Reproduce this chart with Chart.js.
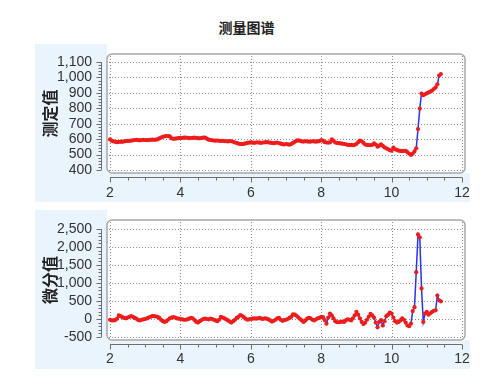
<!DOCTYPE html>
<html><head><meta charset="utf-8">
<script src="https://cdn.jsdelivr.net/npm/chart.js@4/dist/chart.umd.min.js"></script>
<style>
html,body{margin:0;padding:0;background:#fff;width:483px;height:390px;overflow:hidden;position:relative;}
.bg{position:absolute;background:#e9f4fc;}
#title{position:absolute;left:0;width:493px;top:17px;text-align:center;font:bold 14px "Noto Sans CJK SC";color:#222;line-height:20px;}
.cw{position:absolute;left:0;}
</style></head><body>
<div class="bg" style="left:35px;top:44px;width:72px;height:158px"></div>
<div class="bg" style="left:35px;top:173px;width:435px;height:29px"></div>
<div class="bg" style="left:35px;top:210px;width:72px;height:159px"></div>
<div class="bg" style="left:35px;top:340px;width:435px;height:29px"></div>
<div id="title">测量图谱</div>
<canvas id="c1" class="cw" width="483" height="165" style="top:40px"></canvas>
<canvas id="c2" class="cw" width="483" height="170" style="top:205px"></canvas>
<script>
const xValues = [
2.00,2.05,2.10,2.15,2.20,2.25,2.30,2.35,2.40,2.45,2.50,2.55,2.60,2.65,2.70,2.75,2.80,2.85,2.90,2.95,
3.00,3.05,3.10,3.15,3.20,3.25,3.30,3.35,3.40,3.45,3.50,3.55,3.60,3.65,3.70,3.75,3.80,3.85,3.90,3.95,
4.00,4.05,4.10,4.15,4.20,4.25,4.30,4.35,4.40,4.45,4.50,4.55,4.60,4.65,4.70,4.75,4.80,4.85,4.90,4.95,
5.00,5.05,5.10,5.15,5.20,5.25,5.30,5.35,5.40,5.45,5.50,5.55,5.60,5.65,5.70,5.75,5.80,5.85,5.90,5.95,
6.00,6.05,6.10,6.15,6.20,6.25,6.30,6.35,6.40,6.45,6.50,6.55,6.60,6.65,6.70,6.75,6.80,6.85,6.90,6.95,
7.00,7.05,7.10,7.15,7.20,7.25,7.30,7.35,7.40,7.45,7.50,7.55,7.60,7.65,7.70,7.75,7.80,7.85,7.90,7.95,
8.00,8.05,8.10,8.15,8.20,8.25,8.30,8.35,8.40,8.45,8.50,8.55,8.60,8.65,8.70,8.75,8.80,8.85,8.90,8.95,
9.00,9.05,9.10,9.15,9.20,9.25,9.30,9.35,9.40,9.45,9.50,9.55,9.60,9.65,9.70,9.75,9.80,9.85,9.90,9.95,
10.00,10.05,10.10,10.15,10.20,10.25,10.30,10.35,10.40,10.45,10.50,10.55,10.60,10.65,10.70,10.75,10.80,10.85,10.90,10.95,
11.00,11.05,11.10,11.15,11.20,11.25,11.30,11.35,11.40];

const measured = [
598,590,585,582,580,581,583,582,585,587,589,588,590,592,594,595,593,592,594,595,
594,593,594,595,596,595,596,598,604,610,615,618,620,619,617,605,602,603,605,606,
608,607,609,610,608,606,607,608,609,607,606,605,607,609,610,603,596,594,592,591,
590,591,589,588,589,587,586,585,587,586,582,578,575,570,568,567,569,572,575,577,
579,577,576,578,579,577,576,578,579,580,579,577,575,573,576,578,574,570,567,565,
568,566,564,568,575,582,590,592,588,585,584,586,585,583,584,586,585,583,585,587,
594,590,580,578,577,579,598,590,578,575,574,572,570,568,566,563,561,562,560,563,
568,580,590,586,575,565,562,561,560,563,572,565,551,558,566,556,546,540,534,528,
525,544,534,530,525,523,522,524,523,515,505,497,505,520,540,665,798,895,885,891,
897,903,908,915,925,935,955,1012,1022];

const differential = [
-20,-40,-40,-30,10,100,80,50,30,20,40,60,80,60,30,10,-30,-40,-20,-10,
0,20,40,60,80,80,70,60,30,-20,-60,-80,-60,-20,20,40,50,40,20,10,
0,-10,-20,-20,-10,10,30,20,-30,-80,-100,-60,-30,0,10,0,-10,10,0,-20,
-40,-60,-20,60,40,20,-10,-40,-70,-100,-60,-20,30,60,110,90,50,10,-20,-10,
0,10,20,10,20,30,10,0,20,10,-10,-40,-70,-50,-20,20,30,-20,-50,-30,
-20,0,30,60,130,120,90,40,0,-40,-80,-40,10,30,20,-20,-40,-10,20,30,
60,50,-30,-130,40,150,100,20,-60,-90,-90,-80,-70,-80,-40,-10,-20,-40,20,100,
200,120,20,-80,-140,-100,-20,60,140,100,40,-100,-230,-80,-30,-180,-60,80,120,180,
150,40,-60,-100,-80,-40,20,-20,-100,-180,-200,-130,220,330,1300,2350,2270,850,-80,150,
200,120,160,200,230,240,650,520,490];

const xTicks = [2,4,6,8,10,12];
const measuredTicks = [400,500,600,700,800,900,1000,1100];
const diffTicks = [-500,0,500,1000,1500,2000,2500];
const yTitle1 = '测定值';
const yTitle2 = '微分值';

const fmt = v => Number(v).toLocaleString('en-US');

const framePlugin = {
  id: 'frame',
  beforeDatasetsDraw(chart, args, opts) {
    const {ctx, chartArea: a, scales: {x, y}} = chart;
    ctx.save();
    ctx.beginPath();
    ctx.roundRect(a.left, a.top, a.right - a.left, a.bottom - a.top, 5);
    ctx.fillStyle = '#fff';
    ctx.fill();
    ctx.lineWidth = 1.5;
    ctx.strokeStyle = '#a8a8a8';
    ctx.stroke();
    ctx.setLineDash([1, 2]);
    ctx.strokeStyle = '#8c8c8c';
    ctx.lineWidth = 1;
    opts.yMajor.forEach(v => {
      const py = Math.round(y.getPixelForValue(v)) + 0.5;
      ctx.beginPath(); ctx.moveTo(a.left + 2, py); ctx.lineTo(a.right - 2, py); ctx.stroke();
    });
    opts.xMajor.forEach(v => {
      const px = Math.round(x.getPixelForValue(v)) + 0.5;
      ctx.beginPath(); ctx.moveTo(px, a.top + 2); ctx.lineTo(px, a.bottom - 2); ctx.stroke();
    });
    ctx.setLineDash([]);
    ctx.strokeStyle = '#6e6e6e';
    ctx.lineWidth = 1;
    const ax = a.left - 5.5;
    const yMin = opts.yMajor[0], yMax = opts.yMajor[opts.yMajor.length - 1];
    ctx.beginPath();
    ctx.moveTo(ax, y.getPixelForValue(yMax)); ctx.lineTo(ax, y.getPixelForValue(yMin));
    for (let v = yMin; v <= yMax + 1e-9; v += opts.yMinor) {
      const py = Math.round(y.getPixelForValue(v)) + 0.5;
      const major = opts.yMajor.includes(v);
      ctx.moveTo(ax, py); ctx.lineTo(ax - (major ? 5 : 3), py);
    }
    ctx.stroke();
    const ay = a.bottom + 4.5;
    const xMin = opts.xMajor[0], xMax = opts.xMajor[opts.xMajor.length - 1];
    ctx.beginPath();
    ctx.moveTo(x.getPixelForValue(xMin), ay); ctx.lineTo(x.getPixelForValue(xMax), ay);
    for (let k = 0; xMin + k * opts.xMinor <= xMax + 1e-9; k++) {
      const v = xMin + k * opts.xMinor;
      const px = Math.round(x.getPixelForValue(v)) + 0.5;
      const major = Math.abs(v - Math.round(v)) < 1e-9 && Math.round(v) % 2 === 0;
      ctx.moveTo(px, ay); ctx.lineTo(px, ay + (major ? 5 : 3));
    }
    ctx.stroke();
    ctx.restore();
  }
};

function makeChart(id, values, yTicks, yMin, yMax, yMinor, title, topPad, xHeight, labelPad) {
  return new Chart(document.getElementById(id), {
    type: 'line',
    data: {
      datasets: [{
        data: xValues.map((x, i) => ({x: x, y: values[i]})),
        borderColor: '#2b34e6',
        borderWidth: 1.5,
        pointRadius: 2.1,
        pointBackgroundColor: '#ee1c1c',
        pointBorderWidth: 0,
        tension: 0
      }]
    },
    options: {
      responsive: false,
      animation: false,
      devicePixelRatio: 1,
      layout: {autoPadding: false, padding: {top: topPad, right: 18, left: 0, bottom: 0}},
      plugins: {
        legend: {display: false},
        tooltip: {enabled: false},
        frame: {xMajor: xTicks, xMinor: 0.5, yMajor: yTicks, yMinor: yMinor}
      },
      scales: {
        x: {
          type: 'linear',
          min: 2 - 3 / 35.2, max: 12 + 3 / 35.2,
          afterBuildTicks: s => { s.ticks = xTicks.map(v => ({value: v})); },
          afterFit: s => { s.height = xHeight; s.paddingLeft = 0; s.paddingRight = 0; },
          grid: {display: false, drawTicks: false},
          border: {display: false},
          ticks: {autoSkip: false, padding: labelPad, color: '#333', font: {family: 'Liberation Sans', size: 14}, maxRotation: 0, callback: v => fmt(v)}
        },
        y: {
          min: yMin, max: yMax,
          afterBuildTicks: s => { s.ticks = yTicks.map(v => ({value: v})); },
          afterFit: s => { s.width = 107; s.paddingTop = 0; s.paddingBottom = 0; },
          grid: {display: false, drawTicks: false},
          border: {display: false},
          ticks: {autoSkip: false, padding: 15, color: '#333', font: {family: 'Liberation Sans', size: 14}, callback: v => fmt(v)},
          title: {display: true, text: title, color: '#222', padding: {top: 40, bottom: 0},
                  font: {family: 'Noto Sans CJK SC', size: 16, weight: 'bold'}}
        }
      }
    },
    plugins: [framePlugin]
  });
}

makeChart('c1', measured, measuredTicks, 380, 1152, 20, yTitle1, 14, 32, 12);
makeChart('c2', differential, diffTicks, -583, 2750, 100, yTitle2, 15, 35, 11);
</script>
</body></html>
